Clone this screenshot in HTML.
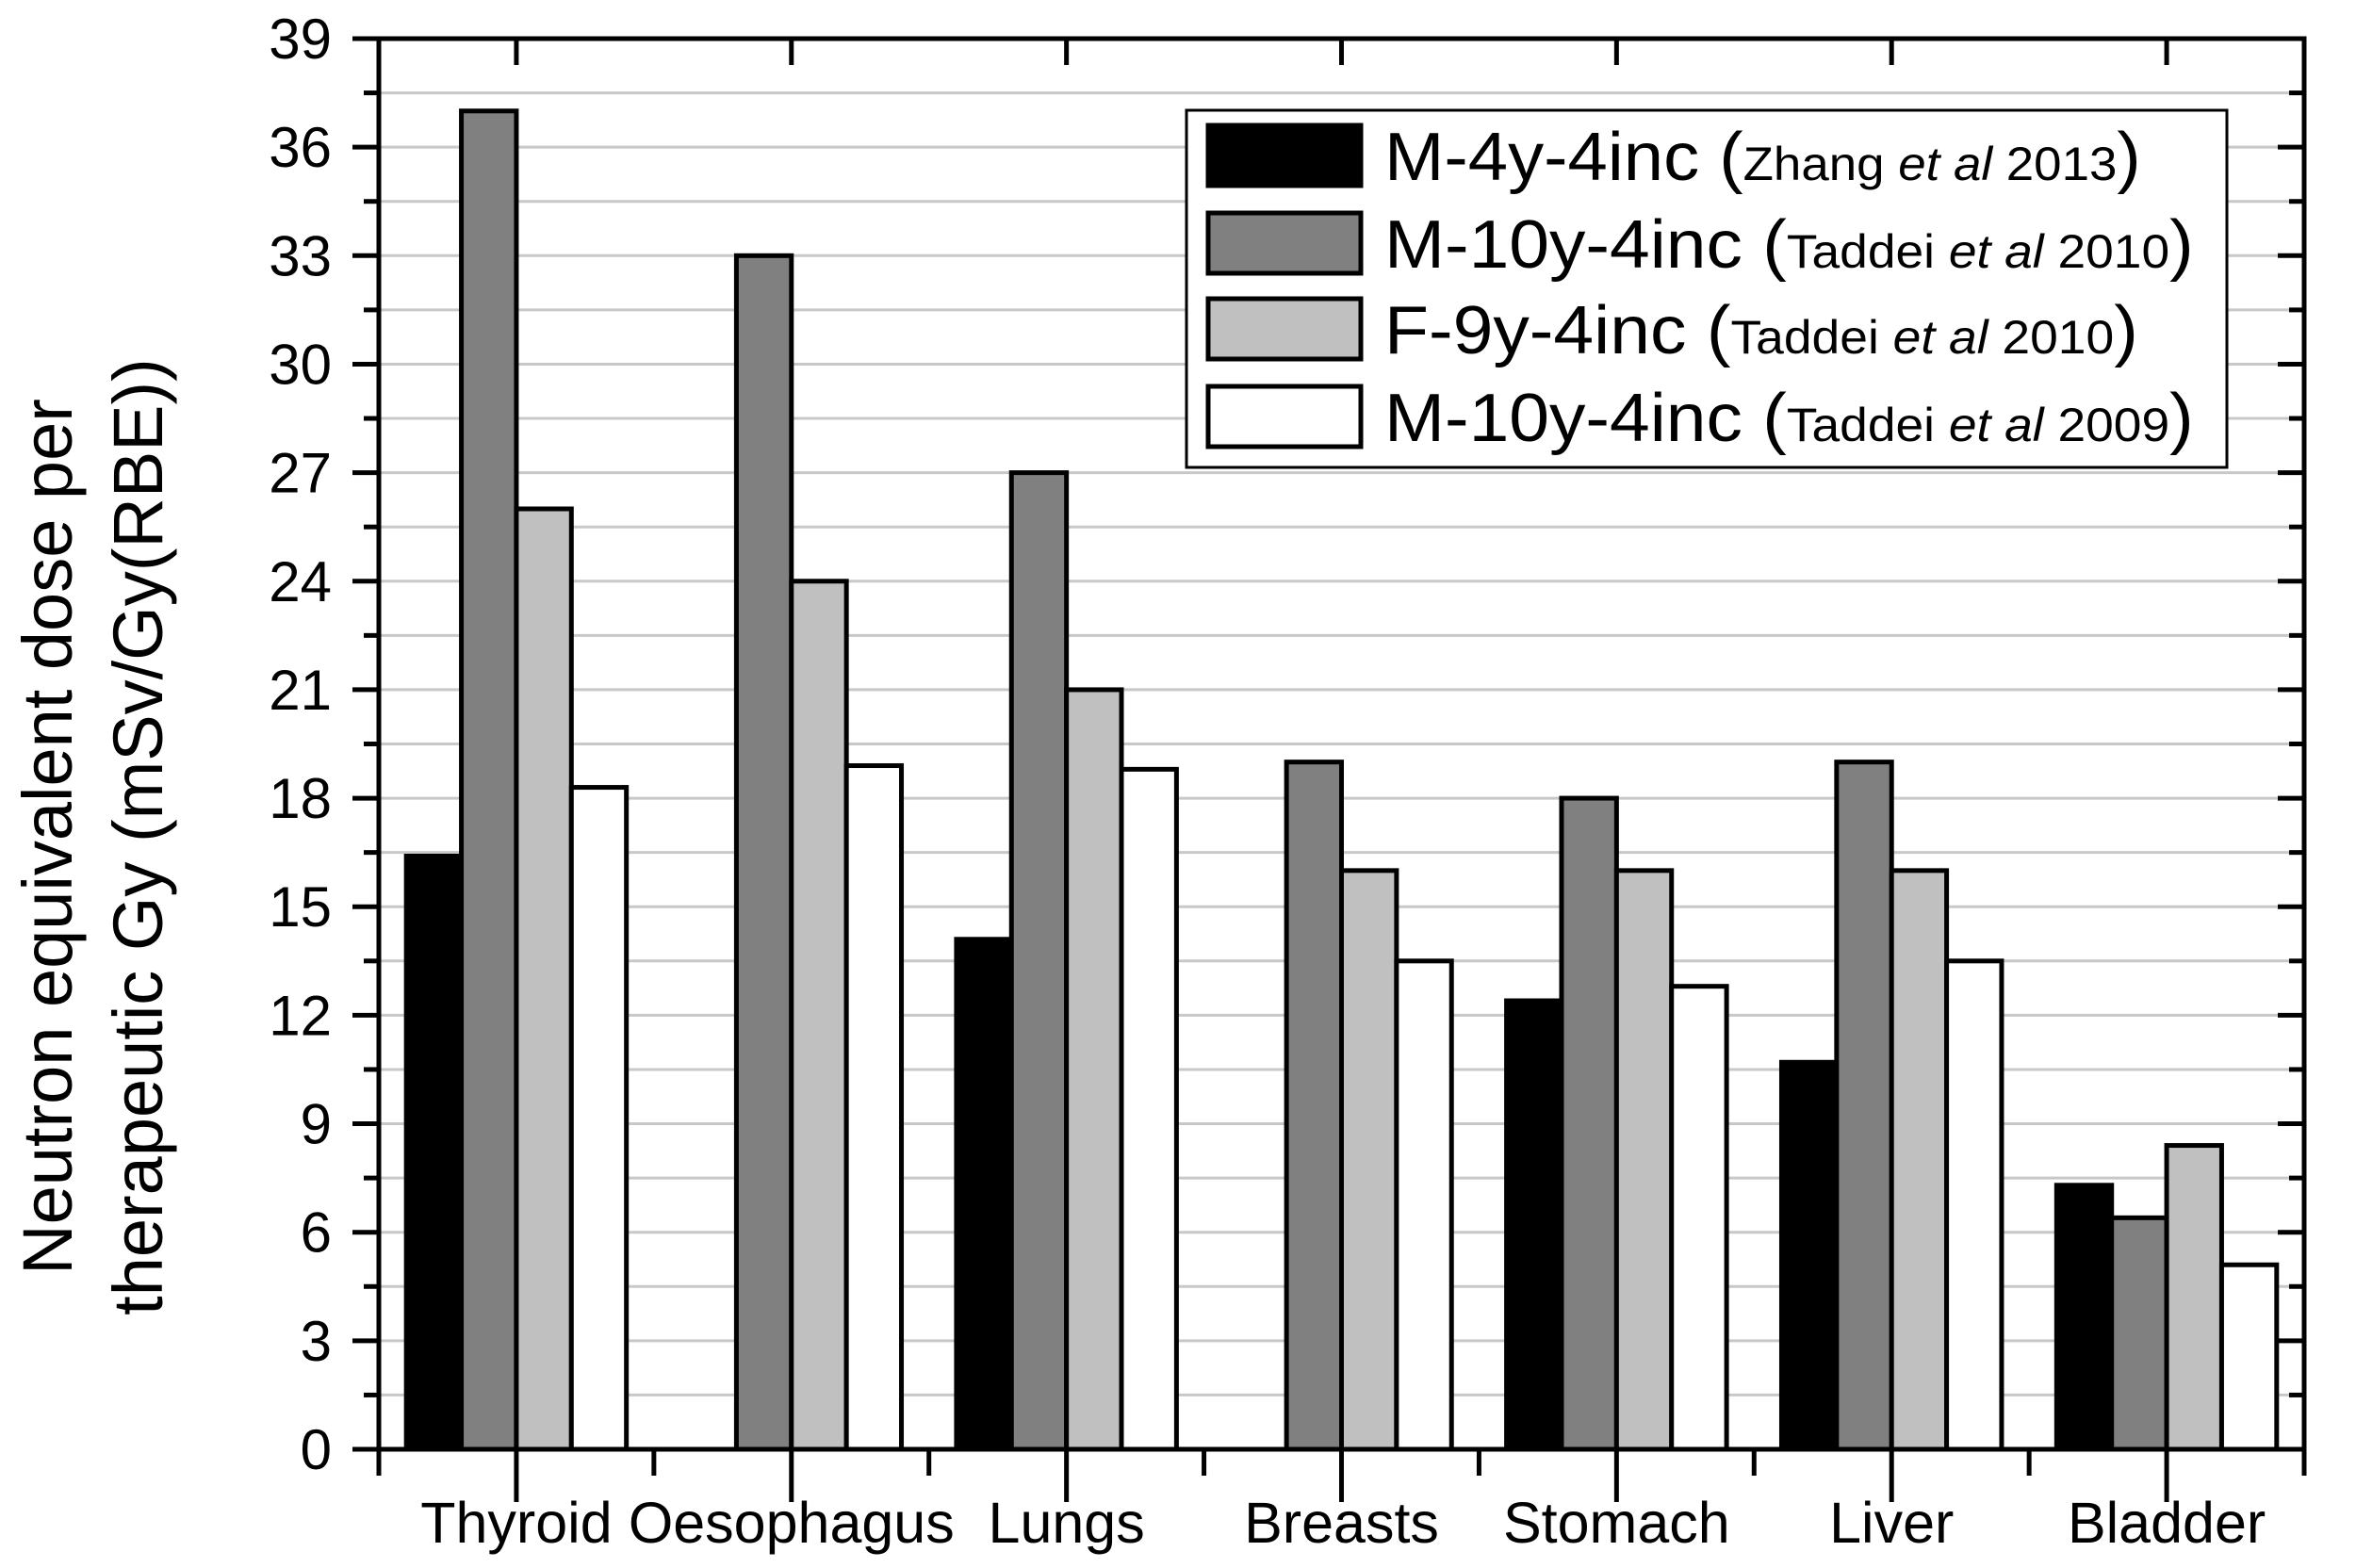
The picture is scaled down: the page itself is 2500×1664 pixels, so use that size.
<!DOCTYPE html>
<html><head><meta charset="utf-8"><style>
html,body{margin:0;padding:0;background:#fff}
svg{display:block;font-family:"Liberation Sans",Arial,sans-serif}
</style></head><body>
<svg id="chart" width="2500" height="1664" viewBox="0 0 2500 1664" xmlns="http://www.w3.org/2000/svg">
<g id="grid"></g>
<g id="bars"></g>
<g id="axes"></g>
<g id="legend"></g>
<g>
<text transform="translate(76,888) rotate(-90)" text-anchor="middle" font-size="74">Neutron equivalent dose per</text>
<text transform="translate(172,888) rotate(-90)" text-anchor="middle" font-size="74">therapeutic Gy (mSv/Gy(RBE))</text>
</g>
</svg>
<script>
const categories = ["Thyroid","Oesophagus","Lungs","Breasts","Stomach","Liver","Bladder"];
const seriesNames = ["M-4y-4inc","M-10y-4inc","F-9y-4inc","M-10y-4inc"];
const seriesRefs = ["Zhang","Taddei","Taddei","Taddei"];
const seriesYears = ["2013","2010","2010","2009"];
const m4y2013 = [16.4, 0, 14.1, 0, 12.4, 10.7, 7.3];
const m10y2010 = [37, 33, 27, 19, 18, 19, 6.4];
const f9y2010 = [26, 24, 21, 16, 16, 16, 8.4];
const m10y2009 = [18.3, 18.9, 18.8, 13.5, 12.8, 13.5, 5.1];
const yTicks = [0,3,6,9,12,15,18,21,24,27,30,33,36,39];

const NS = "http://www.w3.org/2000/svg";
const L = 402, R = 2445, T = 41, B = 1538;
const yMax = 39;
const fills = ["#000000","#808080","#c0c0c0","#ffffff"];
const series = [m4y2013, m10y2010, f9y2010, m10y2009];
const y = v => B - (v / yMax) * (B - T);
const band = (R - L) / categories.length;
const xc = i => L + band * (i + 0.5);
const barW = band * 0.8 / 4;

function mk(tag, attrs, parent){
  const el = document.createElementNS(NS, tag);
  for (const k in attrs) el.setAttribute(k, attrs[k]);
  parent.appendChild(el);
  return el;
}
const grid = document.getElementById('grid');
const bars = document.getElementById('bars');
const axes = document.getElementById('axes');
const legend = document.getElementById('legend');

for (let v = 1.5; v < yMax; v += 1.5) {
  const g = mk('line', {x1:L, x2:R, y1:y(v), y2:y(v), stroke:'#c8c8c8', 'stroke-width':3}, grid);
  
  
}

series.forEach((s, si) => {
  s.forEach((v, ci) => {
    if (v <= 0) return;
    const x0 = xc(ci) - 2*barW + si*barW;
    const r = mk('rect', {x:x0, y:y(v), width:barW, height:B - y(v), fill:fills[si], stroke:'#000', 'stroke-width':5}, bars);
    
    
  });
});

const fr = mk('rect', {x:L, y:T, width:R-L, height:B-T, fill:'none', stroke:'#000', 'stroke-width':5}, axes);



for (let v = 0; v <= yMax + 0.01; v += 1.5) {
  const major = Math.abs(v/3 - Math.round(v/3)) < 0.01;
  const len = major ? 28 : 16;
  mk('line', {x1:L-len, x2:L, y1:y(v), y2:y(v), stroke:'#000', 'stroke-width':5}, axes);
  mk('line', {x1:R-len, x2:R, y1:y(v), y2:y(v), stroke:'#000', 'stroke-width':5}, axes);
}
yTicks.forEach(v => {
  const t = mk('text', {x:352, y:y(v)+21, 'text-anchor':'end', 'font-size':60}, axes);
  t.textContent = v;
  
  
});

for (let i = 0; i <= categories.length; i++) {
  const xb = L + band*i;
  mk('line', {x1:xb, x2:xb, y1:B, y2:B+28, stroke:'#000', 'stroke-width':5}, axes);
}
categories.forEach((c, i) => {
  mk('line', {x1:xc(i), x2:xc(i), y1:B, y2:B+56, stroke:'#000', 'stroke-width':5}, axes);
  mk('line', {x1:xc(i), x2:xc(i), y1:T, y2:T+28, stroke:'#000', 'stroke-width':5}, axes);
  const t = mk('text', {x:xc(i), y:1637, 'text-anchor':'middle', 'font-size':61}, axes);
  t.textContent = c;
  
  
});

const lb = mk('rect', {x:1259, y:117, width:1104, height:379, fill:'#fff', stroke:'#000', 'stroke-width':3}, legend);


const rowY = [133, 226, 317, 410];
const targetW = [803, 859, 800, 859];
seriesNames.forEach((n, i) => {
  const sw = mk('rect', {x:1282, y:rowY[i], width:162, height:64, fill:fills[i], stroke:'#000', 'stroke-width':5}, legend);
  
  
  const g = mk('g', {}, legend);
  const t = mk('text', {x:0, y:0, 'font-size':72}, g);
  
  
  const a = mk('tspan', {}, t); a.textContent = n + ' (';
  const b = mk('tspan', {'font-size':50}, t); b.textContent = seriesRefs[i] + ' ';
  const c = mk('tspan', {'font-size':50, 'font-style':'italic'}, t); c.textContent = 'et al ';
  const d = mk('tspan', {'font-size':50}, t); d.textContent = seriesYears[i];
  const e = mk('tspan', {}, t); e.textContent = ')';
  const w = t.getComputedTextLength() || targetW[i];
  const sx = targetW[i] / w;
  g.setAttribute('transform', 'translate(1469,' + (rowY[i]+58) + ') scale(' + sx + ',1)');
});
</script>
</body></html>
